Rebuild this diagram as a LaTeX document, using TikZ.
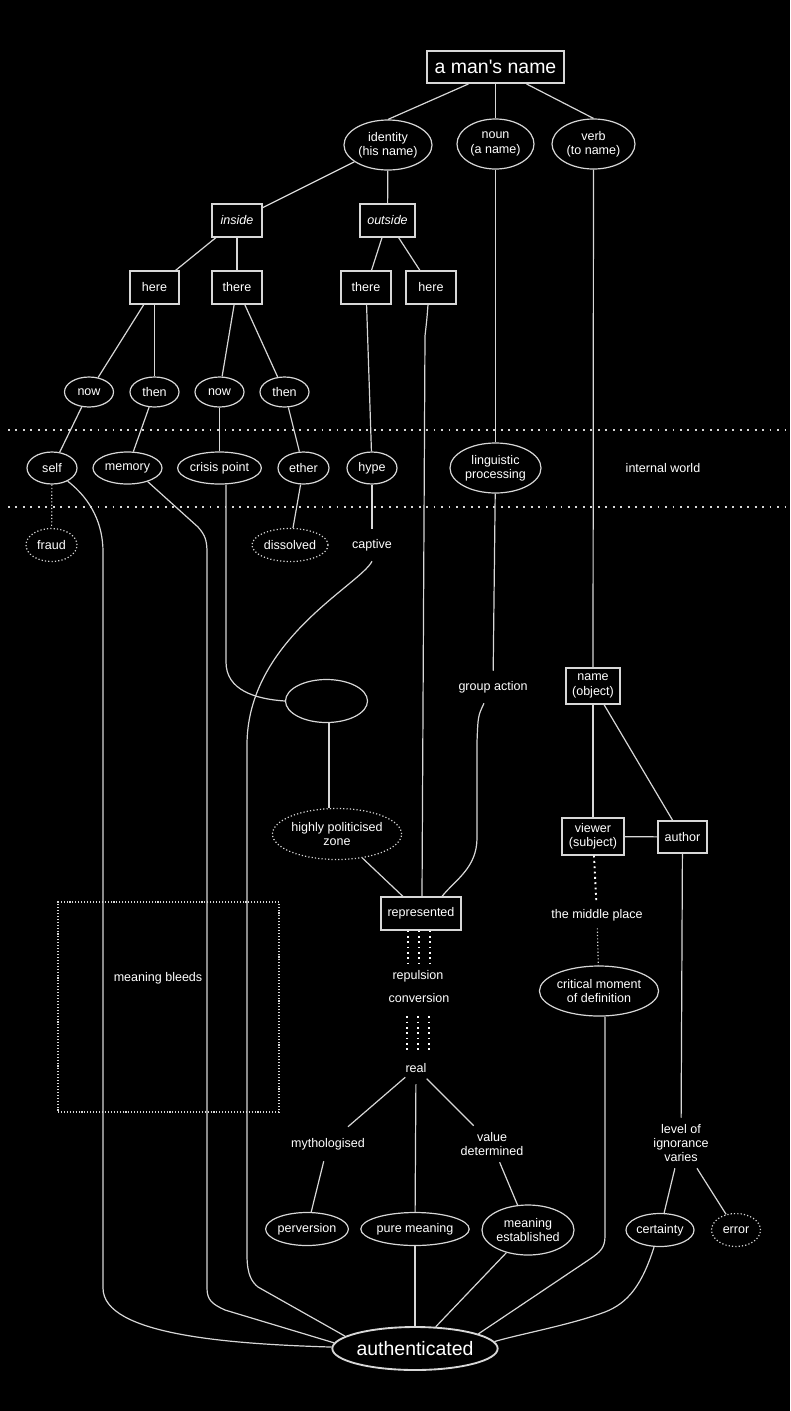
\documentclass[tikz,border=0pt]{standalone}
\usepackage{fontspec}
\newfontfamily\lsans{Liberation Sans}
\usetikzlibrary{shapes.geometric,calc}
\newdimen\pxu \pxu=0.75pt
\newcommand\lblfont{\lsans\fontsize{9.4pt}{10.7pt}\selectfont}
\newcommand\bigfnt{\lsans\fontsize{14.6pt}{16pt}\selectfont}
\definecolor{lc}{RGB}{215,215,215}
\begin{document}
\begin{tikzpicture}[x=0.75pt,y=-0.75pt,
  every node/.style={font=\lblfont,text=white},
  conn/.style={draw=lc,line width=0.9pt},
  ell/.style 2 args={ellipse,draw=lc,line width=0.9pt,inner sep=0pt,minimum width=#1*\pxu,minimum height=#2*\pxu,align=center},
  dell/.style 2 args={ell={#1}{#2},dash pattern=on 0.9pt off 1.6pt},
  bx/.style 2 args={rectangle,draw=lc,line width=0.9pt,inner sep=0pt,minimum width=#1*\pxu,minimum height=#2*\pxu,align=center},
  lbl/.style={inner sep=0pt,minimum height=#1*\pxu,align=center},
  sepline/.style={draw=lc,line width=1.4pt,dash pattern=on 1.4pt off 4.2pt},
  fdot/.style={draw=lc,line width=0.9pt,dash pattern=on 0.9pt off 1.6pt},
  tdot/.style={draw=white,line width=1.4pt,dash pattern=on 1.4pt off 2.6pt},
]
\fill[black] (0,0) rectangle (790,1411);
\useasboundingbox (0,0) rectangle (790,1411);

\draw[sepline] (8,430) -- (790,430);
\draw[sepline] (8,507) -- (790,507);

% nodes
\node[bx={137}{32},line width=1.4pt,font=\bigfnt] (mansname) at (495.5,67) {a man's name};
\node[ell={88}{50}] (identity) at (388,145) {identity\\(his name)};
\node[ell={77}{50}] (noun) at (495.5,144) {noun\\(a name)};
\node[ell={83}{50}] (verb) at (593.5,144) {verb\\(to name)};
\node[bx={50}{33},font=\lblfont\itshape] (inside) at (237,220.5) {inside};
\node[bx={55}{33},font=\lblfont\itshape] (outside) at (387.5,220.5) {outside};
\node[bx={49}{33}] (hereL) at (154.5,287.5) {here};
\node[bx={50}{33}] (thereL) at (237,287.5) {there};
\node[bx={50}{33}] (thereR) at (366,287.5) {there};
\node[bx={50}{33}] (hereR) at (431,287.5) {here};
\node[ell={49}{30}] (nowA) at (89,392) {now};
\node[ell={49}{30}] (thenA) at (154.5,392) {then};
\node[ell={49}{30}] (nowB) at (219.5,392) {now};
\node[ell={49}{30}] (thenB) at (284.5,392) {then};
\node[ell={50}{32}] (self) at (52,468) {self};
\node[ell={69}{32}] (memory) at (127.5,468) {memory};
\node[ell={83}{32}] (crisis) at (219.5,468) {crisis point};
\node[ell={51}{32}] (ether) at (303.5,468) {ether};
\node[ell={50}{32}] (hype) at (372,468) {hype};
\node[ell={91}{50}] (ling) at (495.5,468) {linguistic\\processing};
\node[lbl=32] (internal) at (663,468) {internal world};
\node[dell={51}{33}] (fraud) at (51.5,545) {fraud};
\node[dell={76}{33}] (dissolved) at (290,545) {dissolved};
\node[lbl=32] (captive) at (372,545) {captive};
\node[lbl=32] (group) at (493,687) {group action};
\node[ell={82}{43}] (emptyell) at (326.5,701) {};
\node[bx={54}{36}] (nameobj) at (593,686) {name\\(object)};
\node[dell={126}{51}] (hpz) at (337,834) {highly politicised\\zone};
\node[bx={62}{37}] (viewer) at (593,836.5) {viewer\\(subject)};
\node[bx={49}{32}] (author) at (682.5,837) {author};
\node[bx={80}{33}] (represented) at (421,913.5) {represented};
\node[lbl=26] (middle) at (597,915) {the middle place};
\node[lbl=26] (repulsion) at (418,976) {repulsion};
\node[lbl=36] (conversion) at (419,998) {conversion};
\node[lbl=32] (real) at (416,1068) {real};
\node[draw=lc,line width=0.8pt,dash pattern=on 0.8pt off 1.4pt,minimum width=221*\pxu,minimum height=210*\pxu,inner sep=0pt] (bleedbox) at (168.5,1007) {};
\node[lbl=32] (bleeds) at (158,978) {meaning bleeds};
\node[ell={116}{50}] (critical) at (599,991) {critical moment\\of definition};
\node[lbl=34] (mytho) at (328,1144) {mythologised};
\node[lbl=36] (valuedet) at (492,1144) {value\\determined};
\node[lbl=50] (level) at (681,1143) {level of\\ignorance\\varies};
\node[ell={82}{33}] (perversion) at (307,1229) {perversion};
\node[ell={99}{33}] (pure) at (415,1229) {pure meaning};
\node[ell={92}{50}] (established) at (528,1230) {meaning\\established};
\node[ell={68}{33}] (certainty) at (660,1230) {certainty};
\node[dell={49}{33}] (error) at (736,1230) {error};
\node[ell={146}{43},line width=1.4pt,font=\bigfnt] (auth) at (415,1348.5) {authenticated};

% straight connectors
\draw[conn] ($(mansname.south)+(-27,0)$) -- (identity.north);
\draw[conn] (mansname) -- (noun);
\draw[conn] ($(mansname.south)+(31,0)$) -- (verb.north);
\draw[conn] (identity) -- (inside);
\draw[conn] (identity) -- (outside);
\draw[conn] (inside) -- (hereL);
\draw[conn] (inside) -- (thereL);
\draw[conn] (outside) -- (thereR);
\draw[conn] (outside) -- (hereR);
\draw[conn] (hereL) -- (nowA);
\draw[conn] (hereL) -- (thenA);
\draw[conn] (thereL) -- (nowB);
\draw[conn] (thereL) -- (thenB);
\draw[conn] (nowA) -- (self);
\draw[conn] (thenA) -- (memory);
\draw[conn] (nowB) -- (crisis);
\draw[conn] (thenB) -- (ether);
\draw[conn] (thereR) -- (hype);
\draw[conn] (noun) -- (ling);
\draw[conn] (verb) -- (nameobj);
\draw[fdot] (self) -- (fraud);
\draw[conn] (ether) -- (dissolved);
\draw[conn] (hype) -- (captive);
\draw[conn] (ling) -- (group);
\draw[conn] (nameobj) -- (viewer);
\draw[conn] (nameobj) -- (author);
\draw[conn] (viewer) -- (author);
\draw[conn] ($(emptyell.south)+(2.5,0)$) -- ($(hpz.north)+(-8,0)$);
\draw[conn] (hpz) -- (represented);
\draw[conn] (author) -- (level);
\draw[conn] (level) -- (certainty);
\draw[conn] (level) -- (error);
\draw[conn] (real) -- (mytho);
\draw[conn] (real) -- (pure);
\draw[conn] (real) -- (valuedet);
\draw[conn] (mytho) -- (perversion);
\draw[conn] (valuedet) -- (established);
\draw[conn] (pure) -- (auth);
\draw[conn] (established) -- (auth);
\draw[tdot] (viewer) -- (middle);
\draw[fdot] (middle) -- (critical);

\foreach \d in {-13,-2,9}{
  \path ($(represented.south)+(\d,0)$) coordinate (tA);
  \draw[tdot] (tA) -- (tA |- repulsion.north);
}
\foreach \d in {-12,-1,10}{
  \path ($(conversion.south)+(\d,0)$) coordinate (tB);
  \draw[tdot] (tB) -- (tB |- real.north);
}

% curved connectors
\draw[conn] ($(hereR.south)+(-3,0)$) .. controls (427,318) .. (425,336) -- ($(represented.north)+(1,0)$);
\draw[conn] ($(group.south)+(-9,0)$) .. controls (478,716) .. (477,742) -- (477,838) .. controls (477,868) and (455,880) .. ($(represented.north)+(21,0)$);
\draw[conn] ($(crisis.south)+(6.5,0)$) -- (226,662) .. controls (226,690) and (255,699) .. (emptyell.west);
\draw[conn] (self.-40) .. controls (92,500) and (103,525) .. (103,552) -- (103,1288) .. controls (103,1335) and (230,1344) .. (auth.179);
\draw[conn] (memory.-34) -- (198,527) .. controls (205,535) and (207,540) .. (207,553) -- (207,1288) .. controls (207,1300) and (212,1304) .. (225,1310) -- (auth.176);
\draw[conn] (captive.south) .. controls (360,585) and (247,640) .. (247,745) -- (247,1255) .. controls (247,1275) and (252,1282) .. (258,1287) -- (auth.170);
\draw[conn] ($(critical.south)+(6,0)$) -- (605,1236) .. controls (605,1248) and (600,1252) .. (590,1259) -- (auth.13);
\draw[conn] ($(certainty.south)+(-6,0)$) .. controls (642,1285) and (628,1303) .. (605,1312) .. controls (570,1325) and (520,1334) .. (auth.5);
\end{tikzpicture}
\end{document}
